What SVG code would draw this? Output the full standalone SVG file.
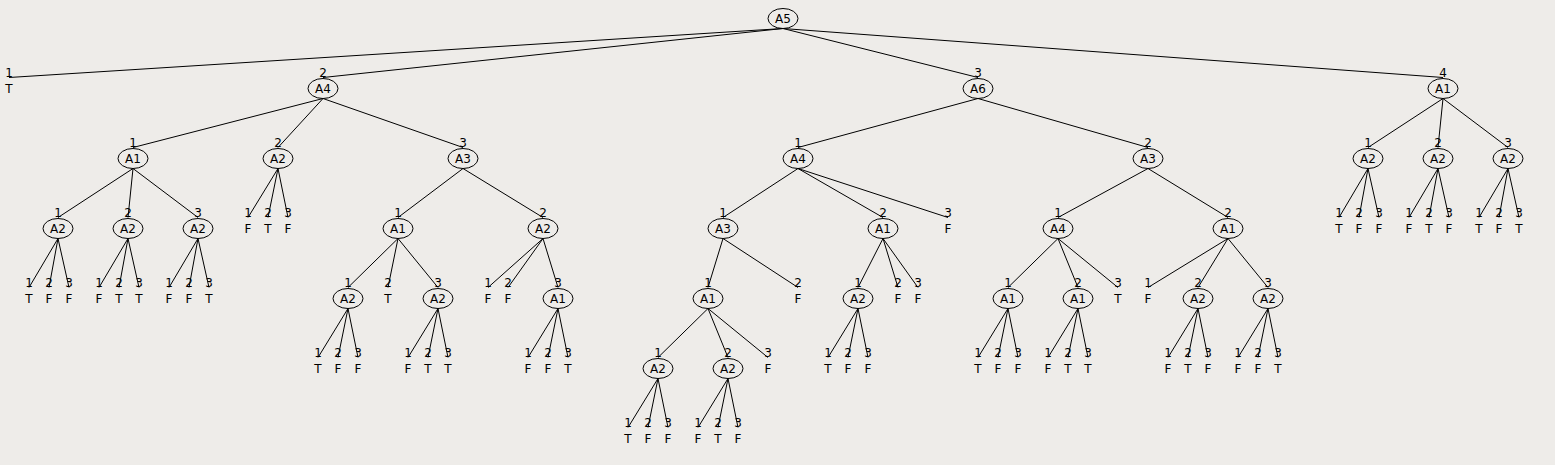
<svg xmlns="http://www.w3.org/2000/svg" width="1555" height="465" viewBox="0 0 1555 465">
<style>
text{font-family:"DejaVu Sans","Liberation Sans",sans-serif;font-size:12px;fill:#000;text-anchor:middle}
.e line{stroke:#000;stroke-width:1;fill:none}
ellipse{fill:none;stroke:#000;stroke-width:1}
</style>
<rect width="1555" height="465" fill="#EEECE9"/>
<g id="connectors" class="e">
<!-- root -->
<line x1="783" y1="28.5" x2="9" y2="77.5"/><text x="9" y="77">1</text>
<line x1="783" y1="28.5" x2="323" y2="77.5"/><text x="323" y="77">2</text>
<line x1="783" y1="28.5" x2="978" y2="77.5"/><text x="978" y="77">3</text>
<line x1="783" y1="28.5" x2="1443" y2="77.5"/><text x="1443" y="77">4</text>
<!-- L1 -> L2 -->
<line x1="323" y1="98.5" x2="133" y2="147.5"/><text x="133" y="147">1</text>
<line x1="323" y1="98.5" x2="278" y2="147.5"/><text x="278" y="147">2</text>
<line x1="323" y1="98.5" x2="463" y2="147.5"/><text x="463" y="147">3</text>
<line x1="978" y1="98.5" x2="798" y2="147.5"/><text x="798" y="147">1</text>
<line x1="978" y1="98.5" x2="1148" y2="147.5"/><text x="1148" y="147">2</text>
<line x1="1443" y1="98.5" x2="1368" y2="147.5"/><text x="1368" y="147">1</text>
<line x1="1443" y1="98.5" x2="1438" y2="147.5"/><text x="1438" y="147">2</text>
<line x1="1443" y1="98.5" x2="1508" y2="147.5"/><text x="1508" y="147">3</text>
<!-- L2 -> L3 -->
<line x1="133" y1="168.5" x2="58" y2="217.5"/><text x="58" y="217">1</text>
<line x1="133" y1="168.5" x2="128" y2="217.5"/><text x="128" y="217">2</text>
<line x1="133" y1="168.5" x2="198" y2="217.5"/><text x="198" y="217">3</text>
<line x1="278" y1="168.5" x2="248" y2="217.5"/><text x="248" y="217">1</text>
<line x1="278" y1="168.5" x2="268" y2="217.5"/><text x="268" y="217">2</text>
<line x1="278" y1="168.5" x2="288" y2="217.5"/><text x="288" y="217">3</text>
<line x1="463" y1="168.5" x2="398" y2="217.5"/><text x="398" y="217">1</text>
<line x1="463" y1="168.5" x2="543" y2="217.5"/><text x="543" y="217">2</text>
<line x1="798" y1="168.5" x2="723" y2="217.5"/><text x="723" y="217">1</text>
<line x1="798" y1="168.5" x2="883" y2="217.5"/><text x="883" y="217">2</text>
<line x1="798" y1="168.5" x2="948" y2="217.5"/><text x="948" y="217">3</text>
<line x1="1148" y1="168.5" x2="1058" y2="217.5"/><text x="1058" y="217">1</text>
<line x1="1148" y1="168.5" x2="1228" y2="217.5"/><text x="1228" y="217">2</text>
<line x1="1368" y1="168.5" x2="1339" y2="217.5"/><text x="1339" y="217">1</text>
<line x1="1368" y1="168.5" x2="1359" y2="217.5"/><text x="1359" y="217">2</text>
<line x1="1368" y1="168.5" x2="1379" y2="217.5"/><text x="1379" y="217">3</text>
<line x1="1438" y1="168.5" x2="1409" y2="217.5"/><text x="1409" y="217">1</text>
<line x1="1438" y1="168.5" x2="1429" y2="217.5"/><text x="1429" y="217">2</text>
<line x1="1438" y1="168.5" x2="1449" y2="217.5"/><text x="1449" y="217">3</text>
<line x1="1508" y1="168.5" x2="1479" y2="217.5"/><text x="1479" y="217">1</text>
<line x1="1508" y1="168.5" x2="1499" y2="217.5"/><text x="1499" y="217">2</text>
<line x1="1508" y1="168.5" x2="1519" y2="217.5"/><text x="1519" y="217">3</text>
<!-- L3 -> L4 -->
<line x1="58" y1="238.5" x2="29" y2="287.5"/><text x="29" y="287">1</text>
<line x1="58" y1="238.5" x2="49" y2="287.5"/><text x="49" y="287">2</text>
<line x1="58" y1="238.5" x2="69" y2="287.5"/><text x="69" y="287">3</text>
<line x1="128" y1="238.5" x2="99" y2="287.5"/><text x="99" y="287">1</text>
<line x1="128" y1="238.5" x2="119" y2="287.5"/><text x="119" y="287">2</text>
<line x1="128" y1="238.5" x2="139" y2="287.5"/><text x="139" y="287">3</text>
<line x1="198" y1="238.5" x2="169" y2="287.5"/><text x="169" y="287">1</text>
<line x1="198" y1="238.5" x2="189" y2="287.5"/><text x="189" y="287">2</text>
<line x1="198" y1="238.5" x2="209" y2="287.5"/><text x="209" y="287">3</text>
<line x1="398" y1="238.5" x2="348" y2="287.5"/><text x="348" y="287">1</text>
<line x1="398" y1="238.5" x2="388" y2="287.5"/><text x="388" y="287">2</text>
<line x1="398" y1="238.5" x2="438" y2="287.5"/><text x="438" y="287">3</text>
<line x1="543" y1="238.5" x2="488" y2="287.5"/><text x="488" y="287">1</text>
<line x1="543" y1="238.5" x2="508" y2="287.5"/><text x="508" y="287">2</text>
<line x1="543" y1="238.5" x2="558" y2="287.5"/><text x="558" y="287">3</text>
<line x1="723" y1="238.5" x2="708" y2="287.5"/><text x="708" y="287">1</text>
<line x1="723" y1="238.5" x2="798" y2="287.5"/><text x="798" y="287">2</text>
<line x1="883" y1="238.5" x2="858" y2="287.5"/><text x="858" y="287">1</text>
<line x1="883" y1="238.5" x2="898" y2="287.5"/><text x="898" y="287">2</text>
<line x1="883" y1="238.5" x2="918" y2="287.5"/><text x="918" y="287">3</text>
<line x1="1058" y1="238.5" x2="1008" y2="287.5"/><text x="1008" y="287">1</text>
<line x1="1058" y1="238.5" x2="1078" y2="287.5"/><text x="1078" y="287">2</text>
<line x1="1058" y1="238.5" x2="1118" y2="287.5"/><text x="1118" y="287">3</text>
<line x1="1228" y1="238.5" x2="1148" y2="287.5"/><text x="1148" y="287">1</text>
<line x1="1228" y1="238.5" x2="1198" y2="287.5"/><text x="1198" y="287">2</text>
<line x1="1228" y1="238.5" x2="1268" y2="287.5"/><text x="1268" y="287">3</text>
<!-- L4 -> L5 -->
<line x1="348" y1="308.5" x2="318" y2="357.5"/><text x="318" y="357">1</text>
<line x1="348" y1="308.5" x2="338" y2="357.5"/><text x="338" y="357">2</text>
<line x1="348" y1="308.5" x2="358" y2="357.5"/><text x="358" y="357">3</text>
<line x1="438" y1="308.5" x2="408" y2="357.5"/><text x="408" y="357">1</text>
<line x1="438" y1="308.5" x2="428" y2="357.5"/><text x="428" y="357">2</text>
<line x1="438" y1="308.5" x2="448" y2="357.5"/><text x="448" y="357">3</text>
<line x1="558" y1="308.5" x2="528" y2="357.5"/><text x="528" y="357">1</text>
<line x1="558" y1="308.5" x2="548" y2="357.5"/><text x="548" y="357">2</text>
<line x1="558" y1="308.5" x2="568" y2="357.5"/><text x="568" y="357">3</text>
<line x1="708" y1="308.5" x2="658" y2="357.5"/><text x="658" y="357">1</text>
<line x1="708" y1="308.5" x2="728" y2="357.5"/><text x="728" y="357">2</text>
<line x1="708" y1="308.5" x2="768" y2="357.5"/><text x="768" y="357">3</text>
<line x1="858" y1="308.5" x2="828" y2="357.5"/><text x="828" y="357">1</text>
<line x1="858" y1="308.5" x2="848" y2="357.5"/><text x="848" y="357">2</text>
<line x1="858" y1="308.5" x2="868" y2="357.5"/><text x="868" y="357">3</text>
<line x1="1008" y1="308.5" x2="978" y2="357.5"/><text x="978" y="357">1</text>
<line x1="1008" y1="308.5" x2="998" y2="357.5"/><text x="998" y="357">2</text>
<line x1="1008" y1="308.5" x2="1018" y2="357.5"/><text x="1018" y="357">3</text>
<line x1="1078" y1="308.5" x2="1048" y2="357.5"/><text x="1048" y="357">1</text>
<line x1="1078" y1="308.5" x2="1068" y2="357.5"/><text x="1068" y="357">2</text>
<line x1="1078" y1="308.5" x2="1088" y2="357.5"/><text x="1088" y="357">3</text>
<line x1="1198" y1="308.5" x2="1168" y2="357.5"/><text x="1168" y="357">1</text>
<line x1="1198" y1="308.5" x2="1188" y2="357.5"/><text x="1188" y="357">2</text>
<line x1="1198" y1="308.5" x2="1208" y2="357.5"/><text x="1208" y="357">3</text>
<line x1="1268" y1="308.5" x2="1238" y2="357.5"/><text x="1238" y="357">1</text>
<line x1="1268" y1="308.5" x2="1258" y2="357.5"/><text x="1258" y="357">2</text>
<line x1="1268" y1="308.5" x2="1278" y2="357.5"/><text x="1278" y="357">3</text>
<!-- L5 -> L6 -->
<line x1="658" y1="378.5" x2="628" y2="427.5"/><text x="628" y="427">1</text>
<line x1="658" y1="378.5" x2="648" y2="427.5"/><text x="648" y="427">2</text>
<line x1="658" y1="378.5" x2="668" y2="427.5"/><text x="668" y="427">3</text>
<line x1="728" y1="378.5" x2="698" y2="427.5"/><text x="698" y="427">1</text>
<line x1="728" y1="378.5" x2="718" y2="427.5"/><text x="718" y="427">2</text>
<line x1="728" y1="378.5" x2="738" y2="427.5"/><text x="738" y="427">3</text>
</g>
<!-- internal nodes -->
<g id="n-A5"><ellipse cx="783" cy="18.5" rx="15" ry="10"/><text x="783" y="23">A5</text></g>
<g id="n-A4-a"><ellipse cx="323" cy="88.5" rx="15" ry="10"/><text x="323" y="93">A4</text></g>
<g id="n-A6"><ellipse cx="978" cy="88.5" rx="15" ry="10"/><text x="978" y="93">A6</text></g>
<g id="n-A1-a"><ellipse cx="1443" cy="88.5" rx="15" ry="10"/><text x="1443" y="93">A1</text></g>
<g id="n-A1-b"><ellipse cx="133" cy="158.5" rx="15" ry="10"/><text x="133" y="163">A1</text></g>
<g id="n-A2-a"><ellipse cx="278" cy="158.5" rx="15" ry="10"/><text x="278" y="163">A2</text></g>
<g id="n-A3-a"><ellipse cx="463" cy="158.5" rx="15" ry="10"/><text x="463" y="163">A3</text></g>
<g id="n-A4-b"><ellipse cx="798" cy="158.5" rx="15" ry="10"/><text x="798" y="163">A4</text></g>
<g id="n-A3-b"><ellipse cx="1148" cy="158.5" rx="15" ry="10"/><text x="1148" y="163">A3</text></g>
<g id="n-A2-b"><ellipse cx="1368" cy="158.5" rx="15" ry="10"/><text x="1368" y="163">A2</text></g>
<g id="n-A2-c"><ellipse cx="1438" cy="158.5" rx="15" ry="10"/><text x="1438" y="163">A2</text></g>
<g id="n-A2-d"><ellipse cx="1508" cy="158.5" rx="15" ry="10"/><text x="1508" y="163">A2</text></g>
<g id="n-A2-e"><ellipse cx="58" cy="228.5" rx="15" ry="10"/><text x="58" y="233">A2</text></g>
<g id="n-A2-f"><ellipse cx="128" cy="228.5" rx="15" ry="10"/><text x="128" y="233">A2</text></g>
<g id="n-A2-g"><ellipse cx="198" cy="228.5" rx="15" ry="10"/><text x="198" y="233">A2</text></g>
<g id="n-A1-c"><ellipse cx="398" cy="228.5" rx="15" ry="10"/><text x="398" y="233">A1</text></g>
<g id="n-A2-h"><ellipse cx="543" cy="228.5" rx="15" ry="10"/><text x="543" y="233">A2</text></g>
<g id="n-A3-c"><ellipse cx="723" cy="228.5" rx="15" ry="10"/><text x="723" y="233">A3</text></g>
<g id="n-A1-d"><ellipse cx="883" cy="228.5" rx="15" ry="10"/><text x="883" y="233">A1</text></g>
<g id="n-A4-c"><ellipse cx="1058" cy="228.5" rx="15" ry="10"/><text x="1058" y="233">A4</text></g>
<g id="n-A1-e"><ellipse cx="1228" cy="228.5" rx="15" ry="10"/><text x="1228" y="233">A1</text></g>
<g id="n-A2-i"><ellipse cx="348" cy="298.5" rx="15" ry="10"/><text x="348" y="303">A2</text></g>
<g id="n-A2-j"><ellipse cx="438" cy="298.5" rx="15" ry="10"/><text x="438" y="303">A2</text></g>
<g id="n-A1-f"><ellipse cx="558" cy="298.5" rx="15" ry="10"/><text x="558" y="303">A1</text></g>
<g id="n-A1-g"><ellipse cx="708" cy="298.5" rx="15" ry="10"/><text x="708" y="303">A1</text></g>
<g id="n-A2-k"><ellipse cx="858" cy="298.5" rx="15" ry="10"/><text x="858" y="303">A2</text></g>
<g id="n-A1-h"><ellipse cx="1008" cy="298.5" rx="15" ry="10"/><text x="1008" y="303">A1</text></g>
<g id="n-A1-i"><ellipse cx="1078" cy="298.5" rx="15" ry="10"/><text x="1078" y="303">A1</text></g>
<g id="n-A2-l"><ellipse cx="1198" cy="298.5" rx="15" ry="10"/><text x="1198" y="303">A2</text></g>
<g id="n-A2-m"><ellipse cx="1268" cy="298.5" rx="15" ry="10"/><text x="1268" y="303">A2</text></g>
<g id="n-A2-n"><ellipse cx="658" cy="368.5" rx="15" ry="10"/><text x="658" y="373">A2</text></g>
<g id="n-A2-o"><ellipse cx="728" cy="368.5" rx="15" ry="10"/><text x="728" y="373">A2</text></g>
<!-- leaves -->
<g id="leaves">
<g id="leaf-L1"><text x="9" y="93">T</text></g>
<g id="leaf-L2"><text x="248" y="233">F</text><text x="268" y="233">T</text><text x="288" y="233">F</text>
<text x="948" y="233">F</text>
<text x="1339" y="233">T</text><text x="1359" y="233">F</text><text x="1379" y="233">F</text>
<text x="1409" y="233">F</text><text x="1429" y="233">T</text><text x="1449" y="233">F</text>
<text x="1479" y="233">T</text><text x="1499" y="233">F</text><text x="1519" y="233">T</text></g>
<g id="leaf-L4"><text x="29" y="303">T</text><text x="49" y="303">F</text><text x="69" y="303">F</text>
<text x="99" y="303">F</text><text x="119" y="303">T</text><text x="139" y="303">T</text>
<text x="169" y="303">F</text><text x="189" y="303">F</text><text x="209" y="303">T</text>
<text x="388" y="303">T</text>
<text x="488" y="303">F</text><text x="508" y="303">F</text>
<text x="798" y="303">F</text>
<text x="898" y="303">F</text><text x="918" y="303">F</text>
<text x="1118" y="303">T</text>
<text x="1148" y="303">F</text></g>
<g id="leaf-L5"><text x="318" y="373">T</text><text x="338" y="373">F</text><text x="358" y="373">F</text>
<text x="408" y="373">F</text><text x="428" y="373">T</text><text x="448" y="373">T</text>
<text x="528" y="373">F</text><text x="548" y="373">F</text><text x="568" y="373">T</text>
<text x="768" y="373">F</text>
<text x="828" y="373">T</text><text x="848" y="373">F</text><text x="868" y="373">F</text>
<text x="978" y="373">T</text><text x="998" y="373">F</text><text x="1018" y="373">F</text>
<text x="1048" y="373">F</text><text x="1068" y="373">T</text><text x="1088" y="373">T</text>
<text x="1168" y="373">F</text><text x="1188" y="373">T</text><text x="1208" y="373">F</text>
<text x="1238" y="373">F</text><text x="1258" y="373">F</text><text x="1278" y="373">T</text></g>
<g id="leaf-L6"><text x="628" y="443">T</text><text x="648" y="443">F</text><text x="668" y="443">F</text>
<text x="698" y="443">F</text><text x="718" y="443">T</text><text x="738" y="443">F</text></g>
</g>
</svg>
